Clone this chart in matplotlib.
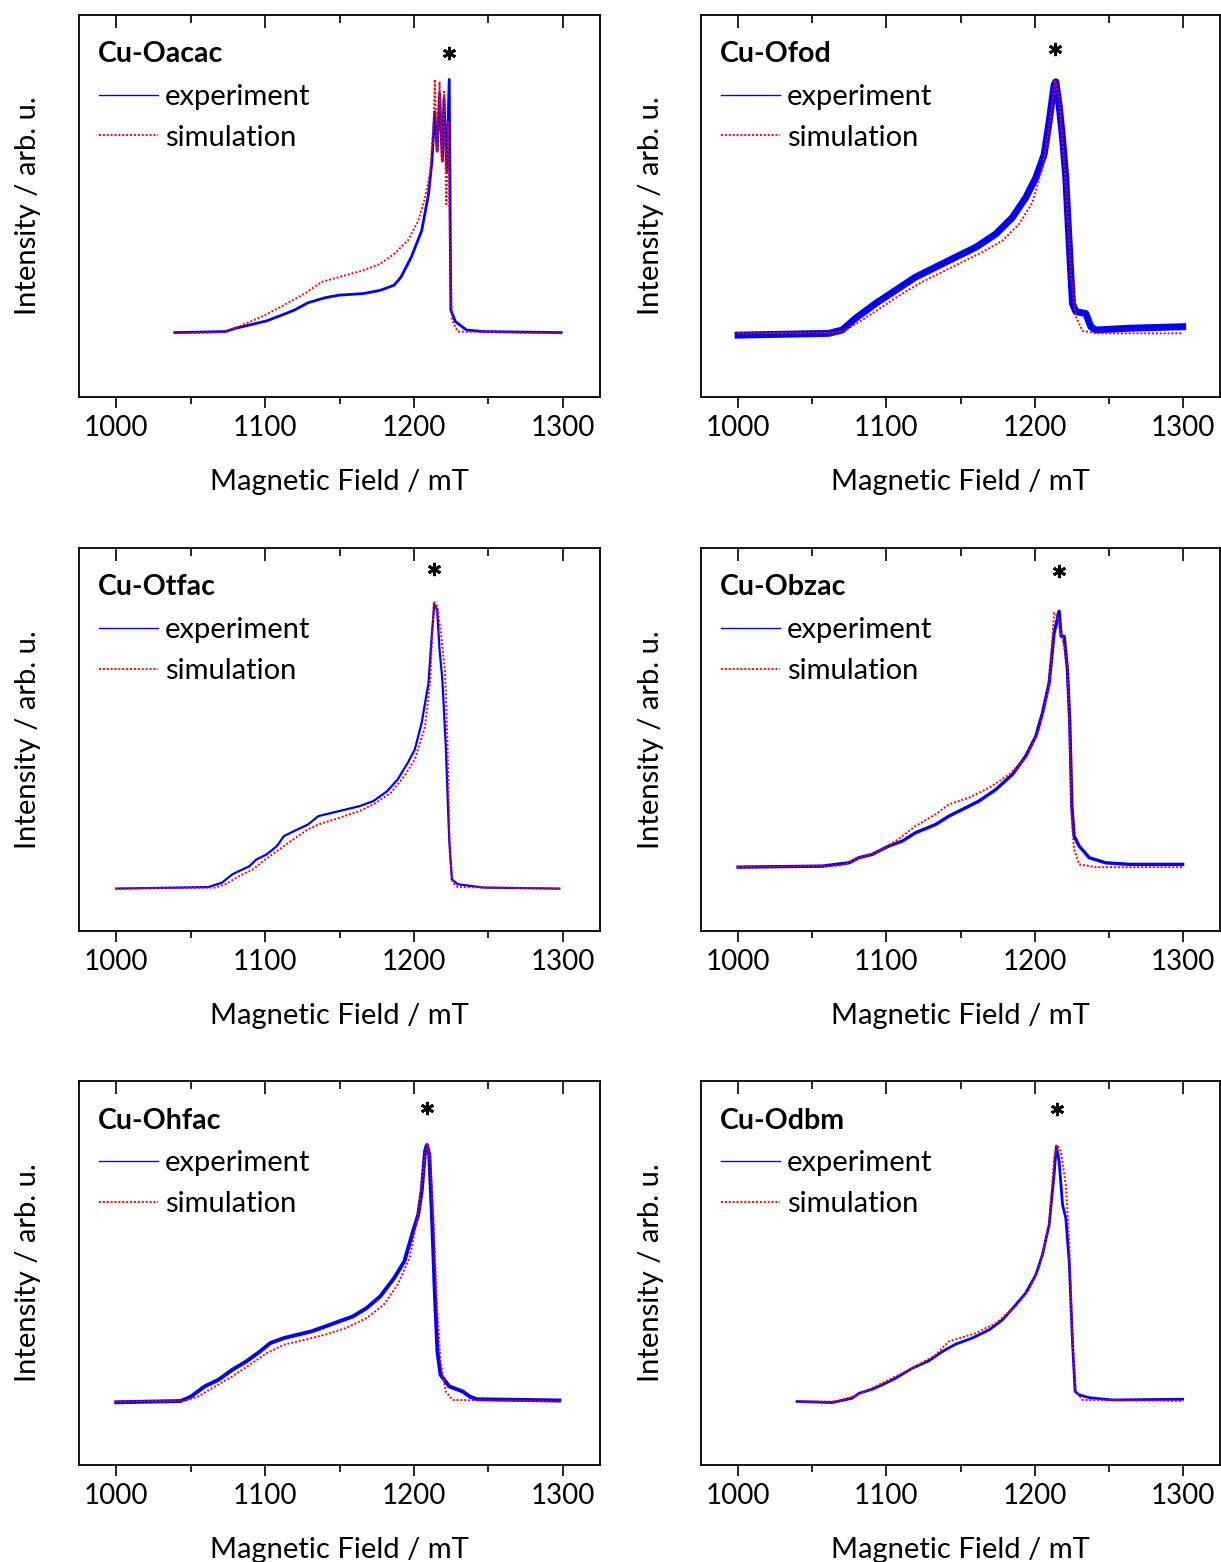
import numpy as np
import matplotlib.pyplot as plt
from matplotlib.lines import Line2D

plt.rcParams['font.family'] = ['Lato', 'DejaVu Sans']

# sample names, panel order: left/right, top to bottom
names = ["Cu-Oacac", "Cu-Ofod", "Cu-Otfac", "Cu-Obzac", "Cu-Ohfac", "Cu-Odbm"]

# ---- Cu-Oacac ----
oacac_exp_B = [1039.3, 1073.3, 1080.3, 1091.8, 1101.1, 1112.7, 1119.6, 1128.8, 1140.4, 1149.7,
               1165.9, 1177.4, 1186.7, 1191.3, 1198.2, 1205.2, 1209.8, 1212.1, 1214.0, 1215.6,
               1217.2, 1219.1, 1220.2, 1222.1, 1223.7, 1224.8, 1227.9, 1235.3, 1246.8, 1298.9]
oacac_exp_I = [0.003, 0.007, 0.020, 0.036, 0.049, 0.075, 0.091, 0.120, 0.140, 0.150,
               0.156, 0.169, 0.189, 0.221, 0.299, 0.403, 0.546, 0.676, 0.871, 0.715,
               0.943, 0.676, 0.923, 0.637, 0.997, 0.091, 0.046, 0.013, 0.007, 0.003]
oacac_sim_B = [1039.3, 1073.3, 1084.9, 1098.8, 1112.7, 1126.5, 1138.1, 1149.7, 1165.9, 1177.4,
               1186.7, 1195.9, 1202.9, 1207.5, 1211.0, 1213.3, 1214.0, 1215.6, 1217.2, 1218.8,
               1220.2, 1221.8, 1223.0, 1224.1, 1225.5, 1229.5, 1298.9]
oacac_sim_I = [0.000, 0.005, 0.033, 0.068, 0.111, 0.156, 0.202, 0.221, 0.247, 0.273,
               0.312, 0.364, 0.442, 0.533, 0.637, 0.845, 0.997, 0.715, 0.988, 0.676,
               0.949, 0.507, 0.832, 0.351, 0.052, 0.007, 0.000]

# ---- Cu-Ofod ----
ofod_exp_B = [1000.0, 1061.2, 1070.2, 1079.2, 1092.7, 1106.2, 1119.7, 1133.2, 1146.7, 1160.3,
              1173.8, 1185.0, 1194.0, 1200.8, 1206.4, 1209.8, 1213.1, 1214.3, 1216.5, 1218.8,
              1221.0, 1223.3, 1225.5, 1227.8, 1234.5, 1237.9, 1241.3, 1263.8, 1299.8]
ofod_exp_I = [-0.007, 0.000, 0.013, 0.059, 0.117, 0.169, 0.221, 0.260, 0.299, 0.338,
              0.390, 0.455, 0.533, 0.611, 0.702, 0.832, 0.975, 0.988, 0.897, 0.767,
              0.611, 0.351, 0.117, 0.085, 0.078, 0.026, 0.013, 0.020, 0.026]
ofod_sim_B = [1000.0, 1065.7, 1072.5, 1083.7, 1097.2, 1110.7, 1124.2, 1137.7, 1151.2, 1164.8,
              1178.3, 1189.5, 1198.5, 1205.3, 1209.8, 1213.8, 1216.5, 1218.8, 1221.5, 1224.4,
              1227.8, 1232.3, 1241.3, 1299.8]
ofod_sim_I = [0.000, 0.003, 0.013, 0.052, 0.104, 0.156, 0.202, 0.241, 0.280, 0.319,
              0.364, 0.429, 0.514, 0.650, 0.806, 0.995, 0.923, 0.741, 0.533, 0.234,
              0.065, 0.010, 0.000, 0.000]

# ---- Cu-Otfac ----
otfac_exp_B = [1000.0, 1061.8, 1071.0, 1078.0, 1089.5, 1094.1, 1101.1, 1108.0, 1112.7, 1121.9,
               1128.8, 1135.8, 1145.0, 1154.3, 1163.5, 1172.8, 1182.1, 1189.0, 1195.9, 1200.6,
               1205.2, 1209.8, 1212.1, 1213.7, 1215.6, 1217.2, 1219.1, 1221.4, 1223.7, 1225.5,
               1229.5, 1246.8, 1297.7]
otfac_exp_I = [-0.084, -0.078, -0.061, -0.028, 0.004, 0.030, 0.050, 0.083, 0.122, 0.148,
               0.167, 0.200, 0.213, 0.226, 0.239, 0.259, 0.298, 0.343, 0.409, 0.461,
               0.565, 0.722, 0.917, 1.028, 1.009, 0.852, 0.735, 0.474, 0.109, -0.048,
               -0.067, -0.080, -0.084]
otfac_sim_B = [1000.0, 1066.4, 1073.3, 1082.6, 1091.8, 1098.8, 1108.0, 1117.3, 1128.8, 1135.8,
               1149.7, 1163.5, 1172.8, 1184.4, 1193.6, 1200.6, 1207.5, 1211.0, 1213.3, 1215.6,
               1217.9, 1220.9, 1222.5, 1224.2, 1226.0, 1229.5, 1297.7]
otfac_sim_I = [-0.084, -0.080, -0.067, -0.035, -0.009, 0.024, 0.063, 0.102, 0.148, 0.167,
               0.193, 0.220, 0.246, 0.291, 0.357, 0.422, 0.552, 0.735, 1.041, 1.022,
               0.930, 0.761, 0.500, 0.043, -0.061, -0.078, -0.084]

# ---- Cu-Obzac ----
obzac_exp_B = [1000.0, 1056.7, 1074.7, 1081.5, 1090.5, 1101.7, 1110.7, 1119.7, 1133.2, 1142.2,
               1151.2, 1162.5, 1173.8, 1185.0, 1194.0, 1200.8, 1205.3, 1209.8, 1213.1, 1214.7,
               1216.5, 1217.9, 1219.9, 1222.1, 1223.7, 1225.1, 1226.6, 1230.0, 1236.8, 1248.0,
               1263.8, 1299.8]
obzac_exp_I = [0.000, 0.004, 0.017, 0.037, 0.050, 0.083, 0.102, 0.135, 0.167, 0.200,
               0.226, 0.259, 0.304, 0.363, 0.435, 0.513, 0.604, 0.722, 0.917, 0.956,
               1.002, 0.904, 0.904, 0.774, 0.565, 0.239, 0.122, 0.083, 0.037, 0.017,
               0.011, 0.011]
obzac_sim_B = [1000.0, 1070.2, 1079.2, 1092.7, 1106.2, 1119.7, 1133.2, 1142.2, 1155.7, 1169.3,
               1182.8, 1194.0, 1203.0, 1209.8, 1213.1, 1215.4, 1217.6, 1219.9, 1222.1, 1223.7,
               1225.1, 1226.6, 1230.0, 1241.3, 1299.8]
obzac_sim_I = [0.000, 0.007, 0.033, 0.057, 0.102, 0.161, 0.207, 0.246, 0.272, 0.311,
               0.363, 0.428, 0.539, 0.709, 0.996, 0.983, 0.917, 0.865, 0.787, 0.500,
               0.174, 0.070, 0.011, 0.000, 0.000]

# ---- Cu-Ohfac ----
ohfac_exp_B = [1000.0, 1043.3, 1050.2, 1059.4, 1068.7, 1078.0, 1087.2, 1096.5, 1103.4, 1112.7,
               1121.9, 1131.2, 1140.4, 1149.7, 1158.9, 1168.2, 1177.4, 1186.7, 1193.6, 1199.4,
               1202.9, 1205.2, 1207.5, 1208.7, 1210.3, 1212.1, 1214.0, 1215.8, 1217.9, 1223.7,
               1232.9, 1237.6, 1242.2, 1297.7]
ohfac_exp_I = [-0.005, 0.000, 0.017, 0.057, 0.083, 0.122, 0.154, 0.193, 0.226, 0.246,
               0.259, 0.272, 0.291, 0.311, 0.330, 0.363, 0.409, 0.480, 0.546, 0.663,
               0.728, 0.820, 0.976, 1.000, 0.963, 0.728, 0.428, 0.193, 0.102, 0.057,
               0.037, 0.017, 0.007, 0.002]
ohfac_sim_B = [1000.0, 1045.6, 1054.8, 1066.4, 1078.0, 1089.5, 1101.1, 1112.7, 1126.5, 1140.4,
               1154.3, 1168.2, 1179.7, 1189.0, 1197.1, 1202.9, 1207.5, 1209.1, 1211.0, 1213.3,
               1215.6, 1217.9, 1221.4, 1226.0, 1297.7]
ohfac_sim_I = [-0.002, 0.000, 0.017, 0.057, 0.096, 0.141, 0.187, 0.220, 0.239, 0.259,
               0.285, 0.324, 0.376, 0.454, 0.559, 0.728, 0.963, 1.002, 0.937, 0.689,
               0.363, 0.154, 0.037, 0.004, -0.002]

# ---- Cu-Odbm ----
odbm_exp_B = [1039.8, 1063.5, 1077.0, 1081.5, 1090.5, 1097.2, 1106.2, 1117.5, 1128.7, 1137.7,
              1146.7, 1158.0, 1169.3, 1178.3, 1187.3, 1194.0, 1200.8, 1205.3, 1209.8, 1213.1,
              1214.7, 1216.5, 1218.8, 1221.0, 1223.3, 1225.5, 1227.3, 1230.0, 1236.8, 1252.5,
              1299.8]
odbm_exp_I = [-0.002, -0.006, 0.011, 0.030, 0.046, 0.063, 0.089, 0.128, 0.157, 0.193,
              0.222, 0.246, 0.278, 0.317, 0.376, 0.422, 0.493, 0.572, 0.689, 0.885,
              0.996, 0.937, 0.767, 0.715, 0.546, 0.233, 0.037, 0.024, 0.013, 0.004,
              0.007]
odbm_sim_B = [1039.8, 1065.7, 1079.2, 1092.7, 1106.2, 1119.7, 1133.2, 1142.2, 1160.3, 1173.8,
              1187.3, 1196.3, 1203.0, 1209.8, 1213.1, 1214.9, 1217.6, 1221.0, 1223.3, 1225.5,
              1227.8, 1232.3, 1299.8]
odbm_sim_I = [-0.002, -0.002, 0.021, 0.057, 0.096, 0.135, 0.180, 0.233, 0.265, 0.304,
              0.370, 0.435, 0.520, 0.689, 0.950, 1.000, 0.976, 0.846, 0.624, 0.233,
              0.037, 0.004, 0.000]

# position of the "*" marker over the main peak (field, intensity)
star_B = [1223.7, 1213.8, 1213.7, 1216.5, 1208.7, 1215.4]
star_I = [1.10, 1.118, 1.168, 1.159, 1.146, 1.139]

exp_B = [oacac_exp_B, ofod_exp_B, otfac_exp_B, obzac_exp_B, ohfac_exp_B, odbm_exp_B]
exp_I = [oacac_exp_I, ofod_exp_I, otfac_exp_I, obzac_exp_I, ohfac_exp_I, odbm_exp_I]
sim_B = [oacac_sim_B, ofod_sim_B, otfac_sim_B, obzac_sim_B, ohfac_sim_B, odbm_sim_B]
sim_I = [oacac_sim_I, ofod_sim_I, otfac_sim_I, obzac_sim_I, ohfac_sim_I, odbm_sim_I]

# noisier spectra look thicker
exp_lw = [2.0, 5.0, 1.6, 2.4, 2.8, 2.0]

blue = '#0000ff'
red = '#ff0000'

fig = plt.figure(figsize=(12.21, 15.62), dpi=100)
W, H = 1221.0, 1562.0
col_px = [(79, 600), (701, 1220)]
row_px = [(15, 397), (548, 931), (1081, 1465)]

for k in range(6):
    r, c = k // 2, k % 2
    x0, x1 = col_px[c]
    y0, y1 = row_px[r]
    ax = fig.add_axes([x0 / W, 1 - y1 / H, (x1 - x0) / W, (y1 - y0) / H])

    ax.plot(exp_B[k], exp_I[k], color=blue, lw=exp_lw[k], solid_joinstyle='round')
    ax.plot(sim_B[k], sim_I[k], color=red, lw=1.4, linestyle=(0, (1, 1)))

    # asterisk over the main peak
    ax.plot(star_B[k], star_I[k], linestyle='none', marker=(6, 2, 0),
            markersize=9.5, markeredgewidth=2.0, color='black')

    ax.set_xlim(975, 1325)
    ax.set_ylim(-0.25, 1.25)
    ax.set_yticks([])
    ax.set_xticks([1000, 1100, 1200, 1300])
    ax.set_xticks([1050, 1150, 1250], minor=True)
    ax.tick_params(axis='x', which='major', direction='out', length=8, width=1.2,
                   labelsize=20, pad=5, top=False)
    ax.tick_params(axis='x', which='minor', direction='out', length=5, width=1.2, top=False)

    top = ax.secondary_xaxis('top')
    top.set_xticks([1000, 1100, 1200, 1300])
    top.set_xticks([1050, 1150, 1250], minor=True)
    top.tick_params(which='major', direction='in', length=9, width=1.2, labeltop=False)
    top.tick_params(which='minor', direction='in', length=6, width=1.2)
    top.spines['top'].set_visible(False)

    for s in ax.spines.values():
        s.set_linewidth(1.3)

    ax.set_xlabel("Magnetic Field / mT", fontsize=21, labelpad=20)
    ax.set_ylabel("Intensity / arb. u.", fontsize=21, labelpad=27)

    ax.text(0.036, 0.897, names[k], transform=ax.transAxes, fontsize=20.5,
            fontweight='bold', va='center', ha='left')

    handles = [Line2D([], [], color=blue, lw=1.0),
               Line2D([], [], color=red, lw=1.4, linestyle=(0, (1, 1)))]
    ax.legend(handles, ["experiment", "simulation"], loc='upper left',
              bbox_to_anchor=(0.022, 0.842), frameon=False, fontsize=21,
              handlelength=2.0, handletextpad=0.25, labelspacing=0.5,
              borderaxespad=0, borderpad=0.3)

fig.savefig("out.png", dpi=100)
